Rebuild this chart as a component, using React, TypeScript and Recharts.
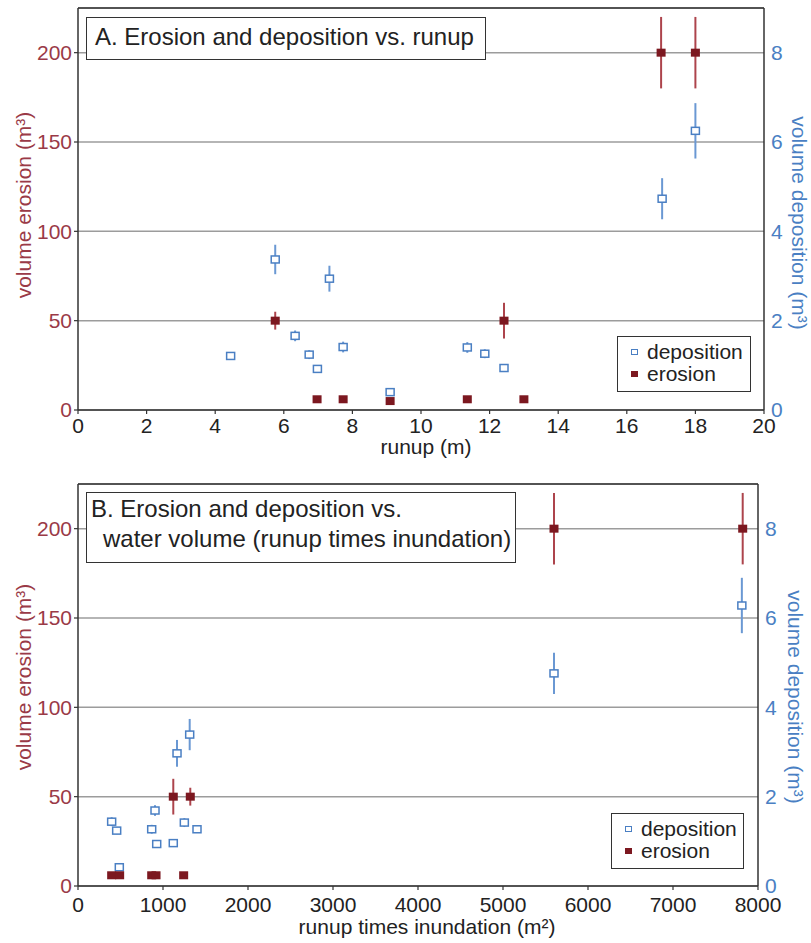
import React from "react";
import {
  ScatterChart,
  Scatter,
  XAxis,
  YAxis,
  CartesianGrid,
  ErrorBar,
  Legend,
  ReferenceLine,
  Label,
} from "recharts";

const FONT = '"Liberation Sans", Arial, Helvetica, sans-serif';
const RED = "#7c1820";
const RED_ERR = "#ad444c";
const RED_TEXT = "#9a3a47";
const BLUE = "#4a7fc3";
const BLUE_ERR = "#6a98d3";
const INK = "#333";
const GRID = "#9c9c9c";

// A. runup (m)
const runupErosion = [5.75, 6.97, 7.73, 9.1, 11.35, 12.42, 13.0, 17.0, 18.0];
const erosionA = [50, 6, 6, 5, 6, 50, 6, 200, 200];
const erosionAErr = [5, 0, 0, 0, 0, 10, 0, 20, 20];
const runupDeposition = [4.45, 5.75, 6.33, 6.74, 6.98, 7.33, 7.73, 9.1, 11.35, 11.86, 12.42, 17.03, 18.0];
const depositionA = [1.21, 3.37, 1.66, 1.24, 0.92, 2.94, 1.41, 0.4, 1.4, 1.26, 0.94, 4.73, 6.25];
const depositionAErr = [0.08, 0.33, 0.12, 0.1, 0, 0.29, 0.12, 0, 0.12, 0.1, 0, 0.46, 0.62];

// B. runup times inundation (m2)
const volumeErosion = [396, 490, 867, 918, 1243, 1121, 1321, 5600, 7820];
const erosionB = [6, 6, 6, 6, 6, 50, 50, 200, 200];
const erosionBErr = [0, 0, 0, 0, 0, 10, 5, 20, 20];
const volumeDeposition = [396, 455, 486, 867, 906, 926, 1121, 1165, 1251, 1314, 1400, 5600, 7810];
const depositionB = [1.44, 1.24, 0.42, 1.27, 1.69, 0.94, 0.96, 2.97, 1.42, 3.39, 1.27, 4.76, 6.28];
const depositionBErr = [0.1, 0.08, 0, 0.1, 0.12, 0, 0, 0.3, 0.1, 0.35, 0.08, 0.46, 0.62];

const erosionTicks = [0, 50, 100, 150, 200];
const depositionTicks = [0, 2, 4, 6, 8];
const runupTicks = [0, 2, 4, 6, 8, 10, 12, 14, 16, 18, 20];
const volumeTicks = [0, 1000, 2000, 3000, 4000, 5000, 6000, 7000, 8000];

type Pt = { x: number; y: number; err: number };
const zip = (xs: number[], ys: number[], es: number[]): Pt[] =>
  xs.map((x, i) => ({ x, y: ys[i], err: es[i] }));

const OpenSquare = (p: any) => (
  <rect x={p.cx - 4} y={p.cy - 3.5} width={8} height={7} fill="#fff" stroke={BLUE} strokeWidth={1.5} />
);
const FilledSquare = (p: any) => (
  <rect x={p.cx - 4.5} y={p.cy - 4} width={9} height={8} fill={RED} />
);

const LegendBox = ({ payload, width }: any) => (
  <div
    style={{
      border: `1.5px solid ${INK}`,
      background: "#fff",
      boxSizing: "border-box",
      width,
      padding: "4px 6px 6px 13px",
      fontFamily: FONT,
      fontSize: 21,
      lineHeight: "22px",
      color: "#222",
    }}
  >
    {(payload || []).map((entry: any) => (
      <div key={entry.value} style={{ display: "flex", alignItems: "center" }}>
        <span
          style={{
            display: "inline-block",
            width: 7,
            height: 6,
            marginRight: 9,
            boxSizing: "border-box",
            background: entry.value === "erosion" ? RED : "#fff",
            border: entry.value === "erosion" ? "none" : `1.5px solid ${BLUE}`,
          }}
        />
        {entry.value}
      </div>
    ))}
  </div>
);

interface PanelProps {
  height: number;
  marginTop: number;
  xAxisHeight: number;
  rightWidth: number;
  xDomain: [number, number];
  xTicks: number[];
  xTickMargin: number;
  xTitle: string;
  xTitleX: number;
  xTitleY: number;
  leftTitleY: number;
  rightTitleX: number;
  rightTitleY: number;
  deposition: Pt[];
  erosion: Pt[];
  titleLines: string[];
  titleBox: { left: number; top: number; width: number; height: number; padLeft: number; indent: number; lineHeight: number; padTop: number };
  legendLeft: number;
  legendTop: number;
  legendWidth: number;
}

function Panel(props: PanelProps) {
  const {
    height, marginTop, xAxisHeight, rightWidth, xDomain, xTicks, xTickMargin,
    xTitle, xTitleX, xTitleY, leftTitleY, rightTitleX, rightTitleY,
    deposition, erosion, titleLines, titleBox, legendLeft, legendTop, legendWidth,
  } = props;
  const tb = titleBox;
  return (
    <div style={{ position: "relative", width: 811, height }}>
      <ScatterChart width={811} height={height} margin={{ top: marginTop, right: 0, bottom: 0, left: 0 }}>
        <CartesianGrid yAxisId="left" vertical={false} stroke={GRID} strokeWidth={1.5} />
        <XAxis
          type="number"
          dataKey="x"
          domain={xDomain}
          ticks={xTicks}
          interval={0}
          height={xAxisHeight}
          tickSize={4}
          tickMargin={xTickMargin}
          axisLine={{ stroke: INK, strokeWidth: 1.5 }}
          tickLine={{ stroke: INK, strokeWidth: 1.2 }}
          tick={{ fill: "#222", fontSize: 21, fontFamily: FONT }}
        >
          <Label
            content={() => (
              <text x={xTitleX} y={xTitleY} textAnchor="middle" fontSize={21} fontFamily={FONT} fill="#222">
                {xTitle}
              </text>
            )}
          />
        </XAxis>
        <YAxis
          yAxisId="left"
          type="number"
          dataKey="y"
          domain={[0, 225]}
          ticks={erosionTicks}
          interval={0}
          width={78}
          tickSize={4}
          tickMargin={2}
          axisLine={{ stroke: INK, strokeWidth: 1.5 }}
          tickLine={{ stroke: INK, strokeWidth: 1.2 }}
          tick={{ fill: RED_TEXT, fontSize: 21, fontFamily: FONT }}
        >
          <Label
            content={() => (
              <text
                x={31}
                y={leftTitleY}
                transform={`rotate(-90, 31, ${leftTitleY})`}
                textAnchor="middle"
                fontSize={21}
                fontFamily={FONT}
                fill={RED_TEXT}
              >
                volume erosion (m³)
              </text>
            )}
          />
        </YAxis>
        <YAxis
          yAxisId="right"
          orientation="right"
          type="number"
          dataKey="y"
          domain={[0, 9]}
          ticks={depositionTicks}
          interval={0}
          width={rightWidth}
          tickSize={4}
          tickMargin={3}
          axisLine={{ stroke: INK, strokeWidth: 1.5 }}
          tickLine={false}
          tick={{ fill: BLUE, fontSize: 21, fontFamily: FONT }}
        >
          <Label
            content={() => (
              <text
                x={rightTitleX}
                y={rightTitleY}
                transform={`rotate(90, ${rightTitleX}, ${rightTitleY})`}
                textAnchor="middle"
                fontSize={21}
                fontFamily={FONT}
                fill={BLUE}
              >
                volume deposition (m³)
              </text>
            )}
          />
        </YAxis>
        <ReferenceLine yAxisId="left" y={225} stroke={INK} strokeWidth={1.5} />
        <Legend
          layout="vertical"
          align="center"
          verticalAlign="middle"
          content={(p: any) => <LegendBox payload={p.payload} width={legendWidth} />}
          wrapperStyle={{ left: legendLeft, top: legendTop, width: legendWidth }}
        />
        <Scatter
          name="deposition"
          yAxisId="right"
          data={deposition}
          shape={OpenSquare}
          fill={BLUE}
          isAnimationActive={false}
        >
          <ErrorBar dataKey="err" direction="y" width={0} stroke={BLUE_ERR} strokeWidth={2} isAnimationActive={false} />
        </Scatter>
        <Scatter
          name="erosion"
          yAxisId="left"
          data={erosion}
          shape={FilledSquare}
          fill={RED}
          isAnimationActive={false}
        >
          <ErrorBar dataKey="err" direction="y" width={0} stroke={RED_ERR} strokeWidth={2} isAnimationActive={false} />
        </Scatter>
      </ScatterChart>
      <div
        style={{
          position: "absolute",
          zIndex: 2,
          left: tb.left,
          top: tb.top,
          width: tb.width,
          height: tb.height,
          boxSizing: "border-box",
          border: `1.5px solid ${INK}`,
          background: "#fff",
          paddingLeft: tb.padLeft,
          paddingTop: tb.padTop,
          fontFamily: FONT,
          fontSize: 24,
          lineHeight: `${tb.lineHeight}px`,
          color: "#222",
          whiteSpace: "nowrap",
        }}
      >
        {titleLines.map((line, i) => (
          <div key={i} style={{ paddingLeft: i > 0 ? tb.indent : 0 }}>
            {line}
          </div>
        ))}
      </div>
    </div>
  );
}

export default function App() {
  return (
    <div style={{ position: "absolute", left: 0, top: 0, width: 811, height: 943, background: "#fff", fontFamily: FONT }}>
      <Panel
        height={470}
        marginTop={8}
        xAxisHeight={60}
        rightWidth={47}
        xDomain={[0, 20]}
        xTicks={runupTicks}
        xTickMargin={4}
        xTitle="runup (m)"
        xTitleX={426}
        xTitleY={454}
        leftTitleY={205}
        rightTitleX={792}
        rightTitleY={223}
        deposition={zip(runupDeposition, depositionA, depositionAErr)}
        erosion={zip(runupErosion, erosionA, erosionAErr)}
        titleLines={["A. Erosion and deposition vs. runup"]}
        titleBox={{ left: 86, top: 17, width: 400, height: 43, padLeft: 8, indent: 0, lineHeight: 37, padTop: 0 }}
        legendLeft={617}
        legendTop={336}
        legendWidth={134}
      />
      <Panel
        height={473}
        marginTop={14}
        xAxisHeight={57}
        rightWidth={53}
        xDomain={[0, 8000]}
        xTicks={volumeTicks}
        xTickMargin={7}
        xTitle="runup times inundation (m²)"
        xTitleX={427}
        xTitleY={464}
        leftTitleY={207}
        rightTitleX={788}
        rightTitleY={227}
        deposition={zip(volumeDeposition, depositionB, depositionBErr)}
        erosion={zip(volumeErosion, erosionB, erosionBErr)}
        titleLines={["B. Erosion and deposition vs.", "water volume (runup times inundation)"]}
        titleBox={{ left: 86, top: 22, width: 430, height: 71, padLeft: 4, indent: 12, lineHeight: 30, padTop: 1 }}
        legendLeft={611}
        legendTop={343}
        legendWidth={133}
      />
    </div>
  );
}
